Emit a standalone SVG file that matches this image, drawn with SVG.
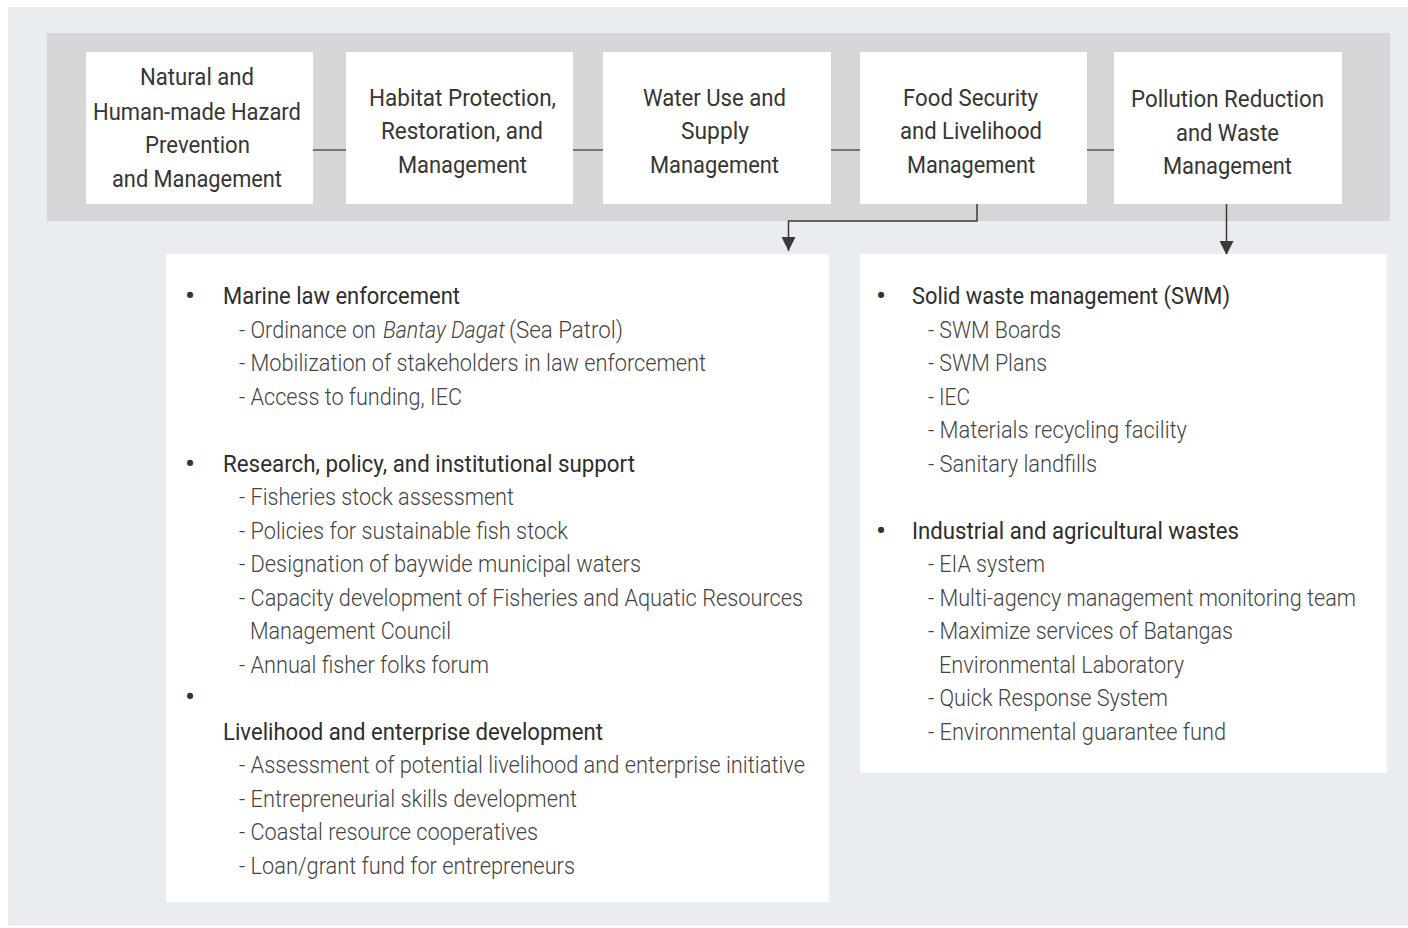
<svg xmlns="http://www.w3.org/2000/svg" width="1408" height="928" viewBox="0 0 1408 928">
<defs>
<style>
.bg{fill:#e9edf0}
.band{fill:#d6d6d8}
.box{fill:#ffffff}
.bt{font-family:Roboto,"Liberation Sans",sans-serif;font-size:24px;font-weight:400;fill:#363636}
.hd{font-family:Roboto,"Liberation Sans",sans-serif;font-size:24px;font-weight:400;fill:#2e2e2e}
.it{font-family:Roboto,"Liberation Sans",sans-serif;font-size:24px;font-weight:300;fill:#444444}
.bul{font-family:Roboto,"Liberation Sans",sans-serif;font-size:30px;fill:#333333;text-anchor:middle}
.ln{stroke:#555555;stroke-width:1.5;fill:none}
.ar{stroke:#3a3a3a;stroke-width:1.5;fill:none}
</style>
<marker id="tri" markerUnits="userSpaceOnUse" markerWidth="14" markerHeight="14" viewBox="0 0 10 10" refX="10" refY="5" orient="auto">
<path d="M0,0 L10,5 L0,10 z" fill="#3a3a3a"/>
</marker>
</defs>
<rect class="bg" x="8" y="7" width="1400" height="918"/>
<rect class="band" x="47" y="33" width="1343" height="188"/>

<g id="connectors">
<line class="ln" x1="313" y1="150" x2="346" y2="150"/>
<line class="ln" x1="573" y1="150" x2="603" y2="150"/>
<line class="ln" x1="831" y1="150" x2="860" y2="150"/>
<line class="ln" x1="1087" y1="150" x2="1114" y2="150"/>
<polyline class="ar" points="977,204 977,221 788.5,221 788.5,251" marker-end="url(#tri)"/>
<line class="ar" x1="1226.5" y1="204" x2="1226.5" y2="255" marker-end="url(#tri)"/>
</g>

<g id="node-hazard">
<rect class="box" x="86" y="52" width="227" height="152"/>
<text class="bt" x="140" y="85" textLength="114" lengthAdjust="spacingAndGlyphs">Natural and</text>
<text class="bt" x="93" y="119.5" textLength="208" lengthAdjust="spacingAndGlyphs">Human-made Hazard</text>
<text class="bt" x="145" y="153" textLength="105" lengthAdjust="spacingAndGlyphs">Prevention</text>
<text class="bt" x="112" y="187" textLength="170" lengthAdjust="spacingAndGlyphs">and Management</text>
</g>

<g id="node-habitat">
<rect class="box" x="346" y="52" width="227" height="152"/>
<text class="bt" x="369" y="105.5" textLength="187" lengthAdjust="spacingAndGlyphs">Habitat Protection,</text>
<text class="bt" x="381" y="139" textLength="162" lengthAdjust="spacingAndGlyphs">Restoration, and</text>
<text class="bt" x="398" y="172.5" textLength="129" lengthAdjust="spacingAndGlyphs">Management</text>
</g>

<g id="node-water">
<rect class="box" x="603" y="52" width="228" height="152"/>
<text class="bt" x="643" y="105.5" textLength="143" lengthAdjust="spacingAndGlyphs">Water Use and</text>
<text class="bt" x="681" y="139" textLength="68" lengthAdjust="spacingAndGlyphs">Supply</text>
<text class="bt" x="650" y="172.5" textLength="129" lengthAdjust="spacingAndGlyphs">Management</text>
</g>

<g id="node-food">
<rect class="box" x="860" y="52" width="227" height="152"/>
<text class="bt" x="903" y="105.5" textLength="135" lengthAdjust="spacingAndGlyphs">Food Security</text>
<text class="bt" x="900" y="139" textLength="142" lengthAdjust="spacingAndGlyphs">and Livelihood</text>
<text class="bt" x="907" y="172.5" textLength="128" lengthAdjust="spacingAndGlyphs">Management</text>
</g>

<g id="node-pollution">
<rect class="box" x="1114" y="52" width="228" height="152"/>
<text class="bt" x="1131" y="107" textLength="193" lengthAdjust="spacingAndGlyphs">Pollution Reduction</text>
<text class="bt" x="1176" y="141" textLength="103" lengthAdjust="spacingAndGlyphs">and Waste</text>
<text class="bt" x="1163" y="174" textLength="129" lengthAdjust="spacingAndGlyphs">Management</text>
</g>

<g id="panel-food">
<rect class="box" x="166" y="254" width="663" height="648"/>
<text class="bul" x="190" y="306">•</text>
<text class="hd" x="223" y="304" textLength="237" lengthAdjust="spacingAndGlyphs">Marine law enforcement</text>
<text class="it" x="239" y="337.5" textLength="137" lengthAdjust="spacingAndGlyphs">- Ordinance on</text>
<text class="it" x="383" y="337.5" textLength="122" lengthAdjust="spacingAndGlyphs" font-style="italic">Bantay Dagat</text>
<text class="it" x="509" y="337.5" textLength="114" lengthAdjust="spacingAndGlyphs">(Sea Patrol)</text>
<text class="it" x="239" y="371" textLength="467" lengthAdjust="spacingAndGlyphs">- Mobilization of stakeholders in law enforcement</text>
<text class="it" x="239" y="404.5" textLength="223" lengthAdjust="spacingAndGlyphs">- Access to funding, IEC</text>
<text class="bul" x="190" y="473.5">•</text>
<text class="hd" x="223" y="471.5" textLength="412" lengthAdjust="spacingAndGlyphs">Research, policy, and institutional support</text>
<text class="it" x="239" y="505" textLength="275" lengthAdjust="spacingAndGlyphs">- Fisheries stock assessment</text>
<text class="it" x="239" y="538.5" textLength="329" lengthAdjust="spacingAndGlyphs">- Policies for sustainable fish stock</text>
<text class="it" x="239" y="572" textLength="402" lengthAdjust="spacingAndGlyphs">- Designation of baywide municipal waters</text>
<text class="it" x="239" y="605.5" textLength="564" lengthAdjust="spacingAndGlyphs">- Capacity development of Fisheries and Aquatic Resources</text>
<text class="it" x="250" y="639" textLength="201" lengthAdjust="spacingAndGlyphs">Management Council</text>
<text class="it" x="239" y="672.5" textLength="250" lengthAdjust="spacingAndGlyphs">- Annual fisher folks forum</text>
<text class="bul" x="190" y="707">•</text>
<text class="hd" x="223" y="739.5" textLength="380" lengthAdjust="spacingAndGlyphs">Livelihood and enterprise development</text>
<text class="it" x="239" y="773" textLength="566" lengthAdjust="spacingAndGlyphs">- Assessment of potential livelihood and enterprise initiative</text>
<text class="it" x="239" y="806.5" textLength="338" lengthAdjust="spacingAndGlyphs">- Entrepreneurial skills development</text>
<text class="it" x="239" y="840" textLength="299" lengthAdjust="spacingAndGlyphs">- Coastal resource cooperatives</text>
<text class="it" x="239" y="873.5" textLength="336" lengthAdjust="spacingAndGlyphs">- Loan/grant fund for entrepreneurs</text>
</g>

<g id="panel-pollution">
<rect class="box" x="860" y="254" width="527" height="519"/>
<text class="bul" x="881" y="306">•</text>
<text class="hd" x="912" y="304" textLength="318" lengthAdjust="spacingAndGlyphs">Solid waste management (SWM)</text>
<text class="it" x="928" y="337.5" textLength="133" lengthAdjust="spacingAndGlyphs">- SWM Boards</text>
<text class="it" x="928" y="371" textLength="119" lengthAdjust="spacingAndGlyphs">- SWM Plans</text>
<text class="it" x="928" y="404.5" textLength="42" lengthAdjust="spacingAndGlyphs">- IEC</text>
<text class="it" x="928" y="438" textLength="259" lengthAdjust="spacingAndGlyphs">- Materials recycling facility</text>
<text class="it" x="928" y="471.5" textLength="169" lengthAdjust="spacingAndGlyphs">- Sanitary landfills</text>
<text class="bul" x="881" y="540.5">•</text>
<text class="hd" x="912" y="538.5" textLength="327" lengthAdjust="spacingAndGlyphs">Industrial and agricultural wastes</text>
<text class="it" x="928" y="572" textLength="117" lengthAdjust="spacingAndGlyphs">- EIA system</text>
<text class="it" x="928" y="605.5" textLength="428" lengthAdjust="spacingAndGlyphs">- Multi-agency management monitoring team</text>
<text class="it" x="928" y="639" textLength="305" lengthAdjust="spacingAndGlyphs">- Maximize services of Batangas</text>
<text class="it" x="939" y="672.5" textLength="245" lengthAdjust="spacingAndGlyphs">Environmental Laboratory</text>
<text class="it" x="928" y="706" textLength="240" lengthAdjust="spacingAndGlyphs">- Quick Response System</text>
<text class="it" x="928" y="739.5" textLength="298" lengthAdjust="spacingAndGlyphs">- Environmental guarantee fund</text>
</g>
</svg>
